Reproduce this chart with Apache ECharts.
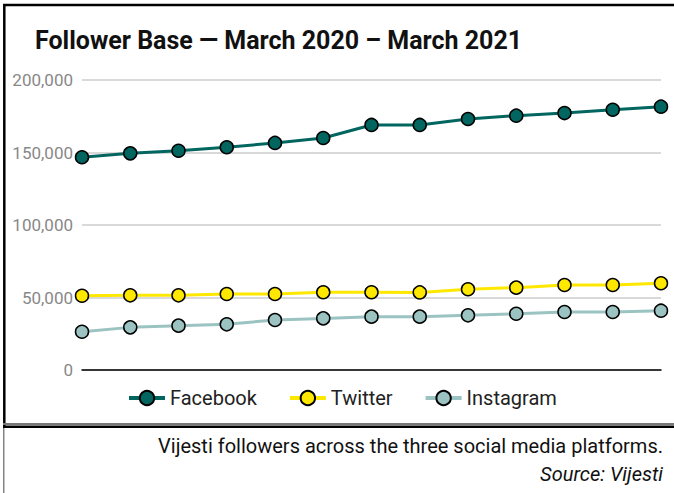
<!DOCTYPE html>
<html>
<head>
<meta charset="utf-8">
<script src="https://cdn.jsdelivr.net/npm/echarts@6/dist/echarts.min.js"></script>
<style>
html,body{margin:0;padding:0;background:#fff;}
#chart{width:674px;height:493px;}
</style>
</head>
<body>
<div id="chart"></div>
<script>
const categories = ['Mar 2020','Apr 2020','May 2020','Jun 2020','Jul 2020','Aug 2020','Sep 2020','Oct 2020','Nov 2020','Dec 2020','Jan 2021','Feb 2021','Mar 2021'];
const facebook = [146700, 149400, 151200, 153600, 156600, 160000, 169000, 169000, 173100, 175400, 177200, 179500, 181600];
const twitter = [51200, 51500, 51500, 52400, 52400, 53600, 53600, 53500, 55700, 56800, 58600, 58600, 59800];
const instagram = [26400, 29400, 30600, 31500, 34500, 35600, 36800, 36800, 37700, 38800, 40000, 40000, 40900];
const seriesNames = ['Facebook', 'Twitter', 'Instagram'];
const seriesColors = ['#00665f', '#ffe800', '#9bc3c1'];
const yTicks = [0, 50000, 100000, 150000, 200000];

const FONT = 'Roboto, "Noto Sans", sans-serif';
const chart = echarts.init(document.getElementById('chart'), null, {renderer: 'svg'});

function mkSeries(name, data, color) {
  return {
    name: name, type: 'line', data: data,
    symbol: 'circle', symbolSize: 13,
    lineStyle: {color: color, width: 3},
    itemStyle: {color: color, borderColor: '#000', borderWidth: 1.5},
    emphasis: {disabled: true},
    z: 3
  };
}

chart.setOption({
  animation: false,
  backgroundColor: '#fff',
  title: {
    text: 'Follower Base \u2014 March 2020 \u2013 March 2021',
    left: 35, top: 28, padding: 0,
    textStyle: {fontFamily: FONT, fontSize: 25, fontWeight: 'bold', color: '#111'}
  },
  legend: {
    top: 383, left: 122,
    itemWidth: 36, itemHeight: 18, itemGap: 31,
    textStyle: {fontFamily: FONT, fontSize: 20, color: '#222'},
    data: seriesNames.map(n => ({name: n, lineStyle: {width: 4}}))
  },
  grid: {left: 82, right: 13, top: 80, bottom: 123, containLabel: false},
  xAxis: {
    type: 'category', data: categories, boundaryGap: false,
    axisLine: {lineStyle: {color: '#000', width: 1.5}},
    axisTick: {show: false}, axisLabel: {show: false}, splitLine: {show: false}
  },
  yAxis: {
    type: 'value', min: yTicks[0], max: yTicks[yTicks.length - 1], interval: 50000,
    axisLine: {show: false}, axisTick: {show: false},
    axisLabel: {
      color: '#888', fontFamily: FONT, fontSize: 17, margin: 9,
      formatter: v => v.toLocaleString('en-US')
    },
    splitLine: {lineStyle: {color: '#cccccc', width: 1.5}}
  },
  series: [
    mkSeries(seriesNames[0], facebook, seriesColors[0]),
    mkSeries(seriesNames[1], twitter, seriesColors[1]),
    mkSeries(seriesNames[2], instagram, seriesColors[2])
  ],
  graphic: [
    {type: 'polyline', shape: {points: [[4.3, 427], [4.3, 5], [680, 5]]}, style: {stroke: '#000', lineWidth: 2.5, fill: null}, silent: true},
    {type: 'line', shape: {x1: 3, y1: 424, x2: 680, y2: 424}, style: {stroke: '#777', lineWidth: 2}, silent: true},
    {type: 'line', shape: {x1: 3, y1: 426.7, x2: 680, y2: 426.7}, style: {stroke: '#000', lineWidth: 2.5}, silent: true},
    {type: 'line', shape: {x1: 3.8, y1: 428, x2: 3.8, y2: 493}, style: {stroke: '#666', lineWidth: 1.2}, silent: true},
    {type: 'text', x: 663, y: 446, style: {text: 'Vijesti followers across the three social media platforms.', fontFamily: FONT, fontSize: 20, fill: '#111', align: 'right', verticalAlign: 'middle'}, silent: true},
    {type: 'text', x: 663, y: 474, style: {text: 'Source: Vijesti', fontFamily: FONT, fontSize: 20, fontStyle: 'italic', fill: '#111', align: 'right', verticalAlign: 'middle'}, silent: true}
  ]
});
</script>
</body>
</html>
